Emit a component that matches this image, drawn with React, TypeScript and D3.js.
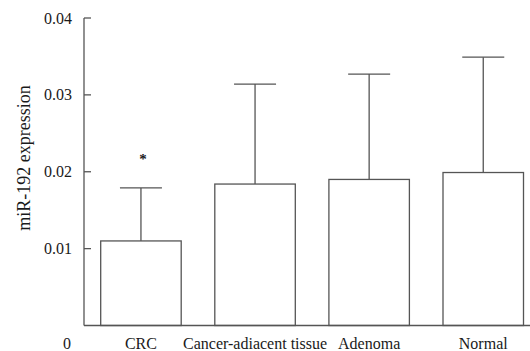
import React from "react";
import * as d3 from "d3";

const categories = ["CRC", "Cancer-adiacent tissue", "Adenoma", "Normal"];
const means = [0.011, 0.0184, 0.019, 0.0199];
const errTops = [0.0179, 0.0314, 0.0327, 0.0349];
const yTicks = [0.01, 0.02, 0.03, 0.04];
const yTickLabels = ["0.01", "0.02", "0.03", "0.04"];
const significant = [true, false, false, false];

const W = 530;
const H = 351;
const axisX = 84;
const font = "Liberation Serif, Times New Roman, serif";
const stroke = "#555";
const textColor = "#1a1a1a";

export default function App() {
  const y = d3.scaleLinear().domain([0, 0.04]).range([325.5, 18]);
  const x = d3
    .scaleBand<string>()
    .domain(categories)
    .range([100.7, 523.5])
    .paddingInner(0.2945)
    .paddingOuter(0);
  const bw = x.bandwidth();
  const capW = 42;
  const ts = { fontFamily: font };

  return (
    <svg
      width={W}
      height={H}
      style={{ position: "absolute", left: 0, top: 0, background: "#fff" }}
    >
      <rect x={0} y={0} width={W} height={H} fill="#fff" />
      {categories.map((c, i) => {
        const x0 = x(c)!;
        const cx = x0 + bw / 2;
        return (
          <g key={c}>
            <line
              x1={cx}
              x2={cx}
              y1={y(means[i])}
              y2={y(errTops[i])}
              stroke={stroke}
              strokeWidth={1.3}
            />
            <line
              x1={cx - capW / 2}
              x2={cx + capW / 2}
              y1={y(errTops[i])}
              y2={y(errTops[i])}
              stroke={stroke}
              strokeWidth={1.3}
            />
            <rect
              x={x0}
              y={y(means[i])}
              width={bw}
              height={y(0) - y(means[i])}
              fill="#fff"
              stroke={stroke}
              strokeWidth={1.3}
            />
            {significant[i] && (
              <text
                x={cx + 2}
                y={y(errTops[i]) - 24}
                textAnchor="middle"
                fontSize={15}
                fontWeight="bold"
                fill={textColor}
                style={ts}
              >
                *
              </text>
            )}
            <text
              x={cx}
              y={349}
              textAnchor="middle"
              fontSize={16}
              fill={textColor}
              style={ts}
            >
              {c}
            </text>
          </g>
        );
      })}
      <line x1={axisX} x2={W} y1={y(0)} y2={y(0)} stroke={stroke} strokeWidth={1.3} />
      <line x1={axisX} x2={axisX} y1={y(0)} y2={y(0.04)} stroke={stroke} strokeWidth={1.3} />
      {yTicks.map((t, i) => (
        <g key={t}>
          <line
            x1={axisX}
            x2={axisX + 7}
            y1={y(t)}
            y2={y(t)}
            stroke={stroke}
            strokeWidth={1.3}
          />
          <text
            x={72}
            y={y(t)}
            dy="0.35em"
            textAnchor="end"
            fontSize={16}
            fill={textColor}
            style={ts}
          >
            {yTickLabels[i]}
          </text>
        </g>
      ))}
      <text
        x={67}
        y={349}
        textAnchor="middle"
        fontSize={16}
        fill={textColor}
        style={ts}
      >
        0
      </text>
      <text
        transform="translate(30,158) rotate(-90)"
        textAnchor="middle"
        fontSize={18}
        fill={textColor}
        style={ts}
      >
        miR-192 expression
      </text>
    </svg>
  );
}
